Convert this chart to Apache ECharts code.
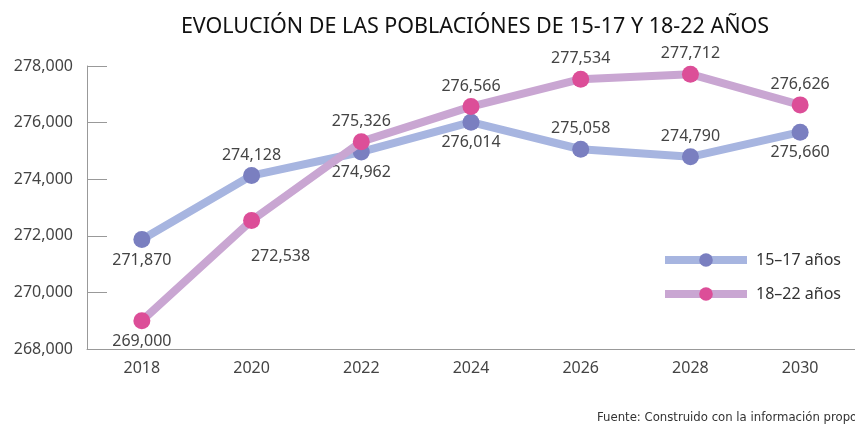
<!DOCTYPE html>
<html>
<head>
<meta charset="utf-8">
<script src="https://cdn.jsdelivr.net/npm/echarts@6/dist/echarts.min.js"></script>
<style>
  html, body { margin: 0; padding: 0; background: #fff; }
  #chart { width: 855px; height: 429px; }
</style>
</head>
<body>
<div id="chart"></div>
<script>
const years = ['2018', '2020', '2022', '2024', '2026', '2028', '2030'];
const pop1517 = [271870, 274128, 274962, 276014, 275058, 274790, 275660];
const pop1822 = [269000, 272538, 275326, 276566, 277534, 277712, 276626];
// label placement per point
const pos1517 = ['bottom', 'top', 'bottom', 'bottom', 'top', 'top', 'bottom'];
const pos1822 = ['bottom', 'bottomRight', 'top', 'top', 'top', 'top', 'top'];

const font = '"Noto Sans", sans-serif';
const fmt = v => v.toLocaleString('en-US');

function points(values, positions) {
  return values.map((v, i) => {
    const p = positions[i];
    if (p === 'bottomRight') {
      return { value: v, label: { position: 'bottom', offset: [29, 15] } };
    }
    return { value: v, label: { position: p } };
  });
}

const labelStyle = {
  show: true,
  distance: 4,
  fontFamily: font,
  fontSize: 16,
  color: '#444',
  formatter: p => fmt(p.value)
};

const chart = echarts.init(document.getElementById('chart'));
chart.setOption({
  animation: false,
  title: {
    text: 'EVOLUCIÓN DE LAS POBLACIÓNES DE 15-17 Y 18-22 AÑOS',
    left: 470,
    textAlign: 'center',
    top: 11,
    textStyle: { fontFamily: font, fontSize: 21.5, fontWeight: 'normal', color: '#111' }
  },
  legend: {
    orient: 'vertical',
    left: 656,
    top: 247,
    itemWidth: 82,
    itemHeight: 17,
    itemGap: 18,
    lineStyle: { width: 8 },
    textStyle: { fontFamily: font, fontSize: 16, color: '#333', padding: [0, 0, 0, 4] },
    data: ['15–17 años', '18–22 años']
  },
  grid: { left: 87, right: -5, top: 66, bottom: 80 },
  xAxis: {
    type: 'category',
    data: years,
    boundaryGap: true,
    axisLine: { lineStyle: { color: '#999', width: 1 } },
    axisTick: { inside: true, length: 6, lineStyle: { color: '#999' } },
    axisLabel: { fontFamily: font, fontSize: 16, color: '#444', margin: 11 }
  },
  yAxis: {
    type: 'value',
    min: 268000,
    max: 278000,
    interval: 2000,
    axisLine: { show: true, lineStyle: { color: '#999', width: 1 } },
    axisTick: { show: true, inside: true, length: 20, lineStyle: { color: '#999' } },
    splitLine: { show: false },
    axisLabel: { fontFamily: font, fontSize: 16, color: '#444', margin: 14, formatter: fmt }
  },
  series: [
    {
      name: '15–17 años',
      type: 'line',
      data: points(pop1517, pos1517),
      symbol: 'circle',
      symbolSize: 17,
      lineStyle: { width: 8, color: '#a7b5e0' },
      itemStyle: { color: '#7a7fc0' },
      label: labelStyle,
      z: 2
    },
    {
      name: '18–22 años',
      type: 'line',
      data: points(pop1822, pos1822),
      symbol: 'circle',
      symbolSize: 17,
      lineStyle: { width: 8, color: '#c9a6d2' },
      itemStyle: { color: '#dc4e98' },
      label: labelStyle,
      z: 3
    }
  ],
  graphic: [
    {
      type: 'text',
      left: 597,
      top: 411,
      style: {
        text: 'Fuente: Construido con la información proporcionada',
        fontFamily: '"DejaVu Sans Condensed", "Liberation Sans Narrow", "Noto Sans", sans-serif',
        fontSize: 13,
        fill: '#333'
      }
    }
  ]
});
</script>
</body>
</html>
